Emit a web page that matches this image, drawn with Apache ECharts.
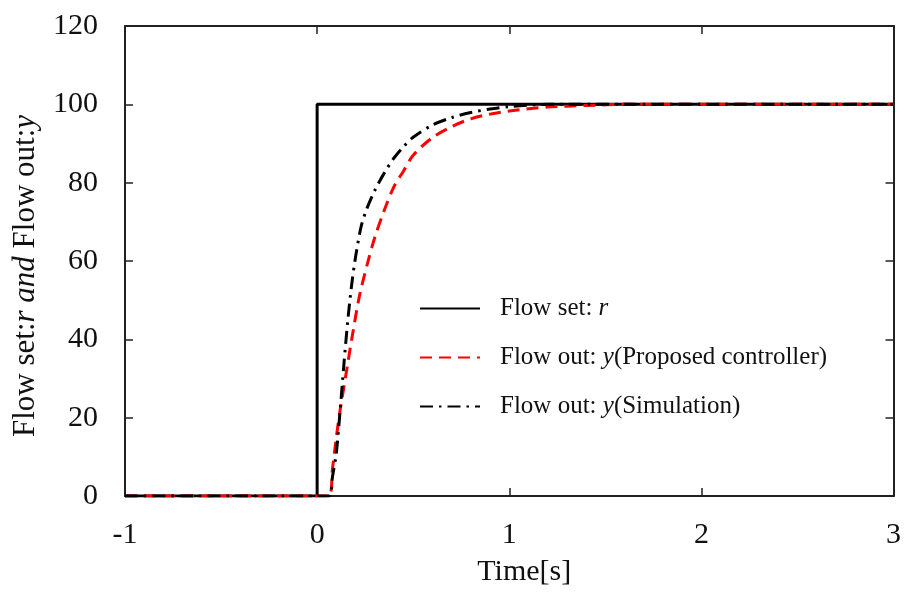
<!DOCTYPE html>
<html>
<head>
<meta charset="utf-8">
<script src="https://cdn.jsdelivr.net/npm/echarts@6/dist/echarts.min.js"></script>
<style>
  html, body { margin: 0; padding: 0; background: #fff; }
  #chart { width: 904px; height: 592px; }
</style>
</head>
<body>
<div id="chart"></div>
<script>
// step set-point r
const setTime = [-1, 0, 0, 3]
const setFlow = [0, 0, 100, 100]

// y (Proposed controller)
const propTime = [-1, 0.06, 0.08, 0.10, 0.12, 0.15, 0.18, 0.22, 0.26, 0.30, 0.35, 0.40, 0.45, 0.50, 0.60, 0.70, 0.80, 0.90, 1.00, 1.20, 1.40, 1.60, 2.00, 3.00]
const propFlow = [0, 0, 7, 15, 22, 31, 40, 51, 59, 66, 73, 79, 83, 87, 91.5, 94.3, 96.3, 97.5, 98.3, 99.3, 99.7, 100, 100, 100]

// y (Simulation)
const simTime = [-1, 0.06, 0.08, 0.10, 0.12, 0.14, 0.16, 0.18, 0.20, 0.23, 0.26, 0.30, 0.35, 0.40, 0.45, 0.50, 0.60, 0.70, 0.80, 0.90, 1.00, 1.20, 3.00]
const simFlow = [0, 0, 5, 11, 22, 34, 45, 54, 61, 69, 73.5, 78, 82.5, 86.3, 89.2, 91.6, 94.7, 96.6, 97.9, 98.8, 99.4, 100, 100]

const xTicks = { min: -1, max: 3, interval: 1 }
const yTicks = { min: 0, max: 120, interval: 20 }

const zip = (xs, ys) => xs.map((x, i) => [x, ys[i]])

const chart = echarts.init(document.getElementById('chart'))

const serif = 'Liberation Serif'
const axisLine = { show: true, onZero: false, lineStyle: { color: '#222', width: 2 } }
const tick = { show: true, inside: true, length: 8, lineStyle: { color: '#222', width: 1.5 } }

chart.setOption({
  animation: false,
  backgroundColor: '#fff',
  grid: { left: 125, right: 6, top: 26, bottom: 89, containLabel: false },
  legend: {
    orient: 'vertical',
    left: 414,
    top: 291,
    itemWidth: 60,
    itemHeight: 20,
    itemGap: 24,
    data: ['set', 'prop', 'sim'],
    itemStyle: { opacity: 0 },
    formatter(name) {
      if (name === 'set') return 'Flow set: {i|r}'
      if (name === 'prop') return 'Flow out: {i|y}(Proposed controller)'
      return 'Flow out: {i|y}(Simulation)'
    },
    textStyle: {
      fontFamily: serif,
      fontSize: 25,
      color: '#111',
      padding: [0, 0, 0, 15],
      rich: { i: { fontFamily: serif, fontStyle: 'italic', fontSize: 25, color: '#111' } }
    }
  },
  xAxis: [
    {
      type: 'value', position: 'bottom', ...xTicks,
      axisLine, axisTick: tick, splitLine: { show: false },
      axisLabel: { fontFamily: serif, fontSize: 30, color: '#111', margin: 24 },
      name: 'Time[s]', nameLocation: 'middle', nameGap: 61,
      nameTextStyle: { fontFamily: serif, fontSize: 30, color: '#111', padding: [0, 0, 0, 30] }
    },
    {
      type: 'value', position: 'top', ...xTicks,
      axisLine, axisTick: tick, splitLine: { show: false }, axisLabel: { show: false }
    }
  ],
  yAxis: [
    {
      type: 'value', position: 'left', ...yTicks,
      axisLine, axisTick: tick, splitLine: { show: false },
      axisLabel: { fontFamily: serif, fontSize: 30, color: '#111', margin: 27 },
      name: 'Flow set:{i|r and} Flow out:{i|y}', nameLocation: 'middle', nameGap: 84,
      nameTextStyle: {
        fontFamily: serif, fontSize: 31, color: '#111', padding: [0, 30, 0, 0],
        rich: { i: { fontFamily: serif, fontStyle: 'italic', fontSize: 31, color: '#111' } }
      }
    },
    {
      type: 'value', position: 'right', ...yTicks,
      axisLine, axisTick: tick, splitLine: { show: false }, axisLabel: { show: false }
    }
  ],
  series: [
    {
      name: 'set', type: 'line', data: zip(setTime, setFlow), symbol: 'none', z: 3,
      lineStyle: { color: '#000', width: 3, type: 'solid' }, itemStyle: { color: '#000' }
    },
    {
      name: 'prop', type: 'line', data: zip(propTime, propFlow), symbol: 'none', smooth: 0.3, z: 4,
      lineStyle: { color: '#ff0000', width: 3, type: [12, 7] }, itemStyle: { color: '#ff0000' }
    },
    {
      name: 'sim', type: 'line', data: zip(simTime, simFlow), symbol: 'none', smooth: 0.3, z: 5,
      lineStyle: { color: '#000', width: 3, type: [13, 6, 2.5, 6] }, itemStyle: { color: '#000' }
    }
  ]
})
</script>
</body>
</html>
